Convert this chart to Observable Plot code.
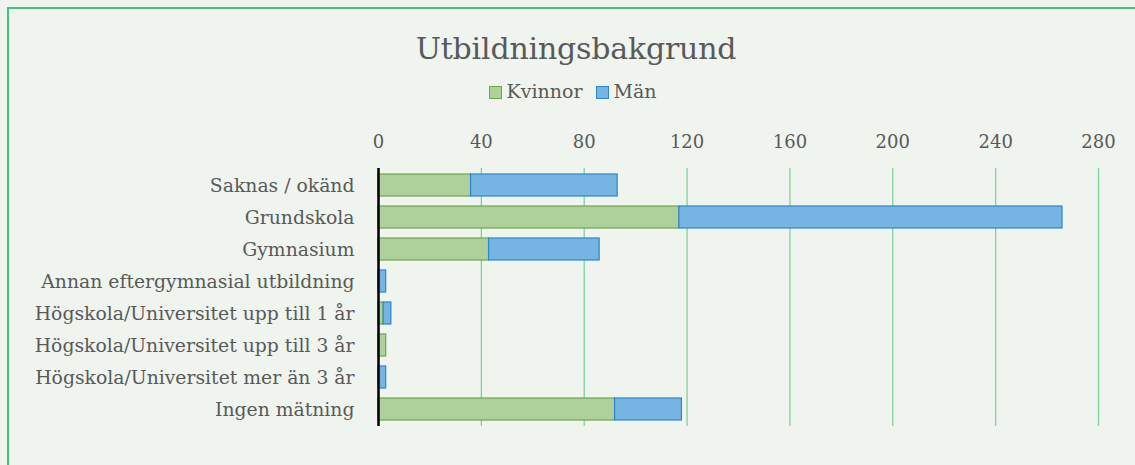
<!DOCTYPE html>
<html>
<head>
<meta charset="utf-8">
<script src="https://cdn.jsdelivr.net/npm/d3@7"></script>
<script src="https://cdn.jsdelivr.net/npm/@observablehq/plot@0.6"></script>
<style>
  html, body { margin: 0; padding: 0; background: #eff4ee; }
  #wrap { position: relative; width: 1135px; height: 465px; overflow: hidden; background: #eff4ee; font-family: "DejaVu Serif", serif; color: #595959; }
  #frame { position: absolute; left: 7px; top: 7px; width: 1140px; height: 470px; border: 2px solid #3cc477; box-sizing: border-box; }
  #title { position: absolute; left: 0; width: 1152px; top: 31px; text-align: center; font-size: 30px; color: #595959; letter-spacing: -0.2px; }
  #legend { position: absolute; left: 0; width: 1146px; top: 80px; text-align: center; font-size: 19px; color: #595959; }
  #legend span.sw { display: inline-block; width: 13px; height: 13px; margin-right: 4px; vertical-align: -1px; box-sizing: border-box; }
  #legend span.item { margin: 0 7px; }
  #chart { position: absolute; left: 0; top: 110px; }
</style>
</head>
<body>
<div id="wrap">
  <div id="frame"></div>
  <div id="title">Utbildningsbakgrund</div>
  <div id="legend"></div>
  <div id="chart"></div>
</div>
<script>
const categories = [
  "Saknas / okänd",
  "Grundskola",
  "Gymnasium",
  "Annan eftergymnasial utbildning",
  "Högskola/Universitet upp till 1 år",
  "Högskola/Universitet upp till 3 år",
  "Högskola/Universitet mer än 3 år",
  "Ingen mätning"
];
const seriesNames = ["Kvinnor", "Män"];
const kvinnor = [36, 117, 43, 0, 2, 3, 0, 92];
const man = [57, 149, 43, 3, 3, 0, 3, 26];
const xTicks = [0, 40, 80, 120, 160, 200, 240, 280];

const fills = {"Kvinnor": "#aed09a", "Män": "#76b5e3"};
const strokes = {"Kvinnor": "#6ea64c", "Män": "#2e86c8"};

const rows = [];
categories.forEach((c, i) => {
  rows.push({cat: c, series: "Kvinnor", value: kvinnor[i]});
  rows.push({cat: c, series: "Män", value: man[i]});
});

// legend
const leg = document.getElementById("legend");
seriesNames.forEach(s => {
  const it = document.createElement("span");
  it.className = "item";
  it.innerHTML = `<span class="sw" style="background:${fills[s]};border:1px solid ${strokes[s]}"></span>${s}`;
  leg.appendChild(it);
});

const chart = Plot.plot({
  width: 1135,
  height: 340,
  marginLeft: 378,
  marginRight: 37,
  marginTop: 58,
  marginBottom: 24,
  style: {background: "transparent", fontFamily: "DejaVu Serif, serif", fontSize: "16px", color: "#595959"},
  x: {domain: [0, 280], label: null},
  y: {domain: categories, paddingInner: 0.32, paddingOuter: 0.16, label: null},
  color: {domain: seriesNames, range: seriesNames.map(s => fills[s])},
  marks: [
    Plot.gridX(xTicks, {stroke: "#7fd39a", strokeOpacity: 1, strokeWidth: 1.3}),
    Plot.barX(rows, Plot.stackX({
      x: "value", y: "cat", fill: "series",
      stroke: d => strokes[d.series], strokeWidth: 1.2,
      order: seriesNames
    })),
    Plot.ruleX([0], {stroke: "#000", strokeWidth: 2.5}),
    Plot.axisX(xTicks, {anchor: "top", tickSize: 0, tickPadding: 21, fontSize: 18, fill: "#595959", label: null}),
    Plot.axisY({tickSize: 0, tickPadding: 24, fontSize: 18.8, fill: "#595959", label: null})
  ]
});
document.getElementById("chart").appendChild(chart);
</script>
</body>
</html>
